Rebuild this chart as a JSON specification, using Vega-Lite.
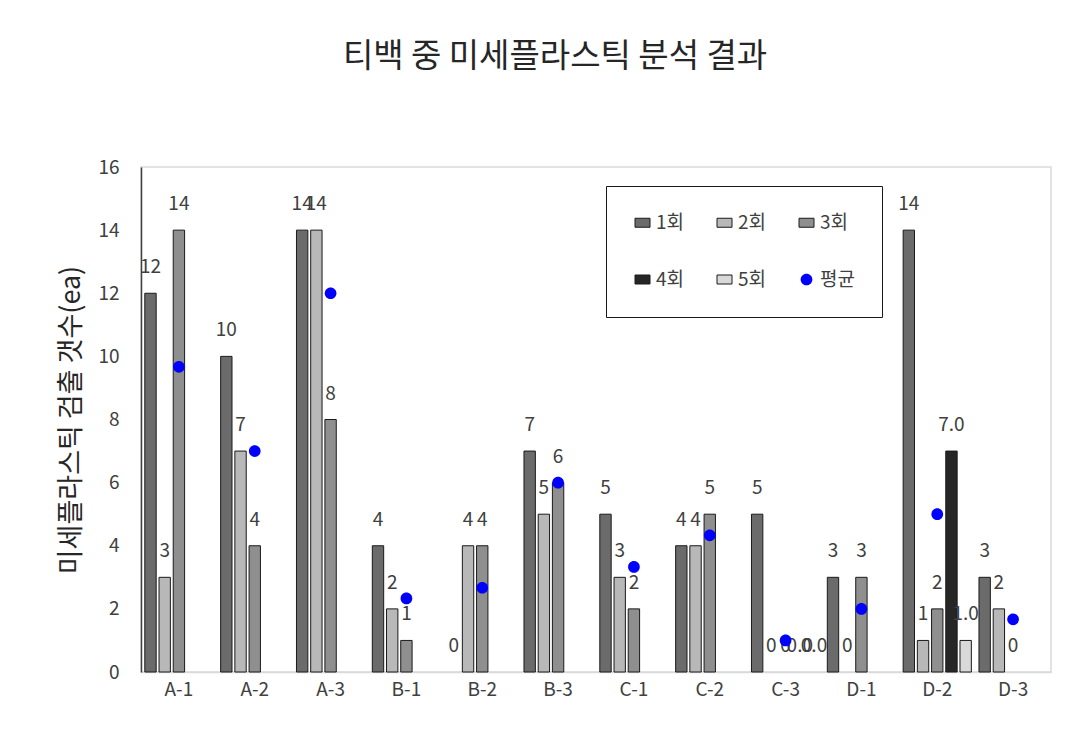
{
  "$schema": "https://vega.github.io/schema/vega-lite/v6.json",
  "autosize": {"type": "none"},
  "padding": {"left": 141, "top": 167, "right": 27, "bottom": 84},
  "width": 910,
  "height": 505,
  "background": "white",
  "title": {
    "text": "티백 중 미세플라스틱 분석 결과",
    "font": "Noto Sans CJK KR",
    "fontSize": 33,
    "fontWeight": "normal",
    "color": "#262626",
    "anchor": "middle",
    "dx": -41,
    "offset": 84
  },
  "data": {
    "values": [
      {"cat": "A-1", "series": "1회", "value": 12, "label": "12"},
      {"cat": "A-1", "series": "2회", "value": 3, "label": "3"},
      {"cat": "A-1", "series": "3회", "value": 14, "label": "14"},
      {"cat": "A-2", "series": "1회", "value": 10, "label": "10"},
      {"cat": "A-2", "series": "2회", "value": 7, "label": "7"},
      {"cat": "A-2", "series": "3회", "value": 4, "label": "4"},
      {"cat": "A-3", "series": "1회", "value": 14, "label": "14"},
      {"cat": "A-3", "series": "2회", "value": 14, "label": "14"},
      {"cat": "A-3", "series": "3회", "value": 8, "label": "8"},
      {"cat": "B-1", "series": "1회", "value": 4, "label": "4"},
      {"cat": "B-1", "series": "2회", "value": 2, "label": "2"},
      {"cat": "B-1", "series": "3회", "value": 1, "label": "1"},
      {"cat": "B-2", "series": "1회", "value": 0, "label": "0"},
      {"cat": "B-2", "series": "2회", "value": 4, "label": "4"},
      {"cat": "B-2", "series": "3회", "value": 4, "label": "4"},
      {"cat": "B-3", "series": "1회", "value": 7, "label": "7"},
      {"cat": "B-3", "series": "2회", "value": 5, "label": "5"},
      {"cat": "B-3", "series": "3회", "value": 6, "label": "6"},
      {"cat": "C-1", "series": "1회", "value": 5, "label": "5"},
      {"cat": "C-1", "series": "2회", "value": 3, "label": "3"},
      {"cat": "C-1", "series": "3회", "value": 2, "label": "2"},
      {"cat": "C-2", "series": "1회", "value": 4, "label": "4"},
      {"cat": "C-2", "series": "2회", "value": 4, "label": "4"},
      {"cat": "C-2", "series": "3회", "value": 5, "label": "5"},
      {"cat": "C-3", "series": "1회", "value": 5, "label": "5"},
      {"cat": "C-3", "series": "2회", "value": 0, "label": "0"},
      {"cat": "C-3", "series": "3회", "value": 0, "label": "0"},
      {"cat": "C-3", "series": "4회", "value": 0, "label": "0.0"},
      {"cat": "C-3", "series": "5회", "value": 0, "label": "0.0"},
      {"cat": "D-1", "series": "1회", "value": 3, "label": "3"},
      {"cat": "D-1", "series": "2회", "value": 0, "label": "0"},
      {"cat": "D-1", "series": "3회", "value": 3, "label": "3"},
      {"cat": "D-2", "series": "1회", "value": 14, "label": "14"},
      {"cat": "D-2", "series": "2회", "value": 1, "label": "1"},
      {"cat": "D-2", "series": "3회", "value": 2, "label": "2"},
      {"cat": "D-2", "series": "4회", "value": 7, "label": "7.0"},
      {"cat": "D-2", "series": "5회", "value": 1, "label": "1.0"},
      {"cat": "D-3", "series": "1회", "value": 3, "label": "3"},
      {"cat": "D-3", "series": "2회", "value": 2, "label": "2"},
      {"cat": "D-3", "series": "3회", "value": 0, "label": "0"},
      {"cat": "A-1", "series": "평균", "value": 9.67},
      {"cat": "A-2", "series": "평균", "value": 7},
      {"cat": "A-3", "series": "평균", "value": 12},
      {"cat": "B-1", "series": "평균", "value": 2.33},
      {"cat": "B-2", "series": "평균", "value": 2.67},
      {"cat": "B-3", "series": "평균", "value": 6},
      {"cat": "C-1", "series": "평균", "value": 3.33},
      {"cat": "C-2", "series": "평균", "value": 4.33},
      {"cat": "C-3", "series": "평균", "value": 1},
      {"cat": "D-1", "series": "평균", "value": 2},
      {"cat": "D-2", "series": "평균", "value": 5},
      {"cat": "D-3", "series": "평균", "value": 1.67}
    ]
  },
  "encoding": {
    "x": {
      "field": "cat",
      "type": "nominal",
      "sort": null,
      "scale": {"paddingInner": 0.063, "paddingOuter": 0.0315},
      "axis": {
        "title": null,
        "labelAngle": 0,
        "ticks": false,
        "domainColor": "#d9d9d9",
        "domainWidth": 1.5,
        "labelFont": "Noto Sans CJK KR",
        "labelFontSize": 19,
        "labelColor": "#404040",
        "labelPadding": 8
      }
    },
    "y": {
      "field": "value",
      "type": "quantitative",
      "scale": {"domain": [0, 16], "nice": false},
      "axis": {
        "title": "미세플라스틱 검출 갯수(ea)",
        "titleFont": "Noto Sans CJK KR",
        "titleFontSize": 27,
        "titleFontWeight": "normal",
        "titleColor": "#262626",
        "titlePadding": 12,
        "values": [0, 2, 4, 6, 8, 10, 12, 14, 16],
        "grid": false,
        "ticks": false,
        "domainColor": "#404040",
        "domainWidth": 1.5,
        "labelFont": "Noto Sans CJK KR",
        "labelFontSize": 19,
        "labelColor": "#404040",
        "labelPadding": 22
      }
    },
    "color": {
      "field": "series",
      "type": "nominal",
      "scale": {
        "domain": ["1회", "2회", "3회", "4회", "5회", "평균"],
        "range": ["#6b6b6b", "#b8b8b8", "#8f8f8f", "#262626", "#d9d9d9", "#0000ff"]
      },
      "legend": {
        "title": null,
        "orient": "none",
        "legendX": 465,
        "legendY": 19,
        "direction": "horizontal",
        "columns": 3,
        "padding": 27,
        "strokeColor": "#1a1a1a",
        "fillColor": "white",
        "columnPadding": 30,
        "rowPadding": 37,
        "symbolSize": 225,
        "symbolStrokeWidth": 1,
        "labelOffset": 4,
        "labelFont": "Noto Sans CJK KR",
        "labelFontSize": 19,
        "labelColor": "#404040"
      }
    }
  },
  "layer": [
    {
      "transform": [{"filter": "datum.series !== '평균' && datum.value > 0"}],
      "mark": {"type": "bar", "strokeWidth": 1},
      "encoding": {
        "xOffset": {
          "field": "series",
          "type": "nominal",
          "scale": {"domain": ["1회", "2회", "3회", "4회", "5회"], "paddingInner": 0.2, "paddingOuter": 0.1}
        },
        "stroke": {
          "field": "series",
          "type": "nominal",
          "scale": {
            "domain": ["1회", "2회", "3회", "4회", "5회", "평균"],
            "range": ["#1a1a1a", "#1a1a1a", "#1a1a1a", "#1a1a1a", "#1a1a1a", "transparent"]
          }
        }
      }
    },
    {
      "transform": [{"filter": "datum.series !== '평균'"}],
      "mark": {"type": "text", "font": "Noto Sans CJK KR", "fontSize": 19, "color": "#404040", "baseline": "middle", "dy": -26},
      "encoding": {
        "xOffset": {"field": "series", "type": "nominal"},
        "text": {"field": "label", "type": "nominal"},
        "color": {"value": "#404040"}
      }
    },
    {
      "transform": [{"filter": "datum.series === '평균'"}],
      "mark": {"type": "point", "filled": true, "size": 225, "opacity": 1, "strokeWidth": 1},
      "encoding": {
        "shape": {
          "field": "series",
          "type": "nominal",
          "scale": {
            "domain": ["1회", "2회", "3회", "4회", "5회", "평균"],
            "range": ["M-1,-0.6H1V0.6H-1Z", "M-1,-0.6H1V0.6H-1Z", "M-1,-0.6H1V0.6H-1Z", "M-1,-0.6H1V0.6H-1Z", "M-1,-0.6H1V0.6H-1Z", "M0.78,0A0.78,0.78,0,1,1,-0.78,0A0.78,0.78,0,1,1,0.78,0Z"]
          }
        },
        "stroke": {"field": "series", "type": "nominal"}
      }
    }
  ],
  "config": {
    "view": {"stroke": "#d9d9d9", "strokeWidth": 1.5}
  }
}
